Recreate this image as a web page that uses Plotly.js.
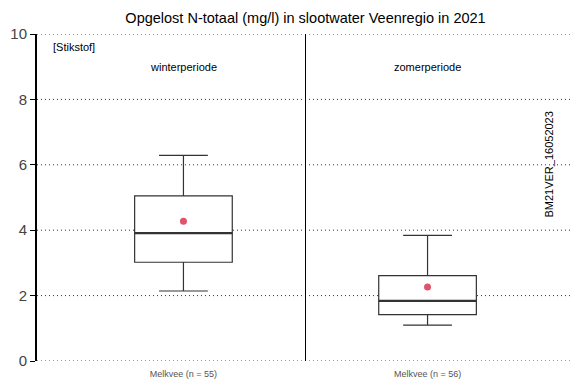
<!DOCTYPE html>
<html>
<head>
<meta charset="utf-8">
<script src="https://cdn.plot.ly/plotly-3.0.1.min.js"></script>
<style>html,body{margin:0;padding:0;background:#fff}#chart{width:584px;height:389px}</style>
</head>
<body>
<div id="chart"></div>
<script>
const groupPos = [1, 2];
const groupLabels = ["Melkvee (n = 55)", "Melkvee (n = 56)"];
const periodLabels = ["winterperiode", "zomerperiode"];
const lowerWhisker = [2.14, 1.10];
const q1 = [3.02, 1.42];
const median = [3.91, 1.84];
const q3 = [5.05, 2.61];
const upperWhisker = [6.29, 3.84];
const mean = [4.27, 2.26];
const yTicks = [0, 2, 4, 6, 8, 10];

const font = "Liberation Sans, Arial, Helvetica, sans-serif";

const traces = [
  {
    type: "box",
    x: groupPos,
    q1: q1, median: median, q3: q3,
    lowerfence: lowerWhisker, upperfence: upperWhisker,
    boxpoints: false,
    width: 0.4,
    whiskerwidth: 0.5,
    fillcolor: "#ffffff",
    line: {color: "#333333", width: 1.2},
    hoverinfo: "skip",
    showlegend: false
  },
  {
    // thick median line
    type: "box",
    x: groupPos,
    q1: median, median: median, q3: median,
    lowerfence: median, upperfence: median,
    boxpoints: false,
    width: 0.4,
    whiskerwidth: 0,
    fillcolor: "rgba(0,0,0,0)",
    line: {color: "#333333", width: 2.2},
    hoverinfo: "skip",
    showlegend: false
  },
  {
    type: "scatter",
    mode: "markers",
    x: groupPos,
    y: mean,
    marker: {color: "#DF536B", size: 7, symbol: "circle"},
    hoverinfo: "skip",
    showlegend: false
  }
];

const annotations = [
  {text: "[Stikstof]", xref: "paper", yref: "paper", x: 0.027, y: 0.96, xanchor: "left", yanchor: "middle", showarrow: false, font: {family: font, size: 11, color: "#000"}},
  {text: "BM21VER_16052023", xref: "paper", yref: "paper", x: 0.953, y: 0.6, xanchor: "center", yanchor: "middle", textangle: -90, showarrow: false, font: {family: font, size: 11, color: "#000"}}
];
periodLabels.forEach((t, i) => annotations.push({
  text: t, xref: "x", yref: "paper", x: groupPos[i], y: 0.9, xanchor: "center", yanchor: "middle",
  showarrow: false, font: {family: font, size: 11, color: "#000"}
}));

const shapes = yTicks.map(v => ({
  type: "line", xref: "paper", yref: "y", x0: 0, x1: 0.995, y0: v, y1: v,
  layer: "below", line: {color: "#333", width: 1, dash: "1px,3px"}
}));
shapes.push({type: "line", xref: "x", yref: "paper", x0: 1.5, x1: 1.5, y0: 0, y1: 1, line: {color: "#000", width: 1}});

const layout = {
  width: 584, height: 389,
  margin: {l: 37, r: 10, t: 34, b: 28, pad: 0},
  paper_bgcolor: "#fff", plot_bgcolor: "#fff",
  title: {text: "Opgelost N-totaal (mg/l) in slootwater Veenregio in 2021", font: {family: font, size: 14.5, color: "#000"}, x: 0.5, xref: "paper", y: 0.955, yanchor: "middle"},
  xaxis: {
    range: [0.4, 2.6], tickvals: groupPos, ticktext: groupLabels,
    showgrid: false, zeroline: false, showline: false, ticks: "",
    ticklabelstandoff: 6,
    tickfont: {family: font, size: 9, color: "#555"}, fixedrange: true
  },
  yaxis: {
    range: [0, 10], tickvals: yTicks,
    showgrid: false,
    zeroline: false, showline: true, linecolor: "#000", linewidth: 2,
    ticks: "outside", ticklen: 5, tickcolor: "#000", tickwidth: 1,
    tickfont: {family: font, size: 15, color: "#444"}, fixedrange: true
  },
  shapes: shapes,
  annotations: annotations
};

Plotly.newPlot("chart", traces, layout, {displayModeBar: false, staticPlot: true});
</script>
</body>
</html>
